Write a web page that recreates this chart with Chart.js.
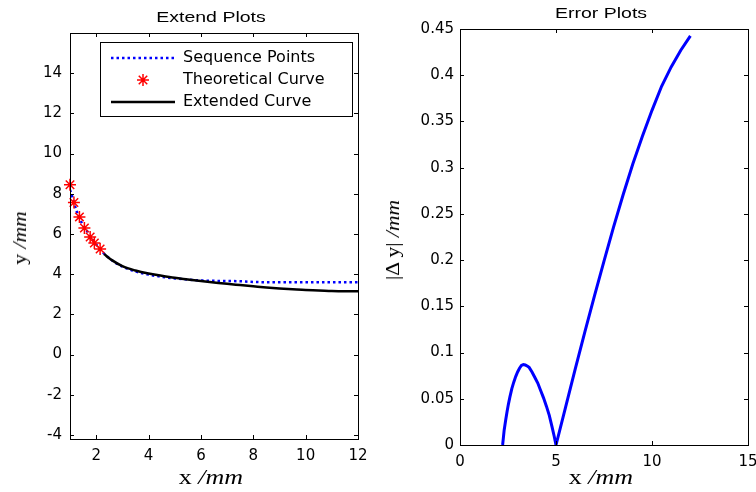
<!DOCTYPE html>
<html>
<head>
<meta charset="utf-8">
<script src="https://cdn.jsdelivr.net/npm/chart.js@4.4.0/dist/chart.umd.min.js"></script>
<style>
  html, body { margin: 0; padding: 0; background: #fff; }
  #wrap { position: relative; width: 756px; height: 492px; overflow: hidden; }
  canvas { position: absolute; top: 0; }
  .lbl { position: absolute; white-space: nowrap; color: #000; line-height: 1; transform: translate(-50%, -50%) scaleX(1.3); }
  .ttl { font-family: 'Liberation Sans', Arial, sans-serif; font-size: 15px; }
  .ax { font-family: 'Liberation Serif', 'Times New Roman', serif; font-size: 20px; }
  .rot { font-size: 18px; transform: translate(-50%, -50%) rotate(-90deg) scaleX(1.2); }
  .ax i { font-style: italic; }
</style>
</head>
<body>
<div id="wrap">
  <canvas id="extendChart" width="378" height="492" style="left:0"></canvas>
  <canvas id="errorChart" width="378" height="492" style="left:378px"></canvas>
  <div class="lbl ttl" style="left:211px; top:16px">Extend Plots</div>
  <div class="lbl ttl" style="left:601px; top:12px">Error Plots</div>
  <div class="lbl ax" style="left:211px; top:477px">x <i>/mm</i></div>
  <div class="lbl ax" style="left:601px; top:477px">x <i>/mm</i></div>
  <div class="lbl ax rot" style="left:20px; top:238px">y <i>/mm</i></div>
  <div class="lbl ax rot" style="left:393px; top:240px">|Δ y| <i>/mm</i></div>
</div>
<script>
// Extend Plots data
const seqX = [1.0, 1.1, 1.25, 1.45, 1.65, 1.85, 2.05, 2.25, 2.45, 2.7, 3.0, 3.5, 4.0, 4.5, 5.0, 5.5, 6.0, 6.5, 7.0, 7.5, 7.9, 8.5, 9.0, 10.0, 11.0, 12.0];
const seqY = [8.2, 7.8, 7.15, 6.55, 6.15, 5.75, 5.4, 5.1, 4.85, 4.6, 4.38, 4.13, 3.98, 3.87, 3.79, 3.73, 3.69, 3.67, 3.66, 3.65, 3.62, 3.6, 3.6, 3.6, 3.6, 3.6];
const theoX = [1.0, 1.15, 1.36, 1.55, 1.77, 1.93, 2.15];
const theoY = [8.45, 7.57, 6.85, 6.3, 5.85, 5.55, 5.25];
const extX = [2.3, 2.6, 3.0, 3.5, 4.0, 4.5, 5.0, 5.5, 6.0, 6.5, 7.0, 7.5, 8.0, 8.5, 9.0, 9.5, 10.0, 10.5, 11.0, 11.5, 12.0];
const extY = [5.0, 4.7, 4.4, 4.18, 4.03, 3.92, 3.82, 3.74, 3.66, 3.59, 3.52, 3.46, 3.4, 3.34, 3.29, 3.25, 3.21, 3.19, 3.16, 3.15, 3.15];
const extendXTicks = [2, 4, 6, 8, 10, 12];
const extendYTicks = [-4, -2, 0, 2, 4, 6, 8, 10, 12, 14];

// Error Plots data
const errX = [2.22, 2.26, 2.3, 2.38, 2.45, 2.52, 2.6, 2.7, 2.8, 2.9, 3.0, 3.1, 3.2, 3.3, 3.4, 3.5, 3.6, 3.75, 3.9, 4.05, 4.2, 4.35, 4.5, 4.65, 4.8, 4.9, 5.0, 5.5, 6.0, 6.5, 7.0, 7.5, 8.0, 8.5, 9.0, 9.5, 10.0, 10.5, 11.0, 11.5, 12.0];
const errY = [0, 0.008, 0.016, 0.027, 0.036, 0.044, 0.052, 0.061, 0.068, 0.074, 0.079, 0.083, 0.086, 0.087, 0.0865, 0.0855, 0.084, 0.079, 0.073, 0.067, 0.059, 0.051, 0.042, 0.032, 0.019, 0.01, 0, 0.041, 0.082, 0.122, 0.161, 0.199, 0.236, 0.271, 0.304, 0.334, 0.362, 0.388, 0.409, 0.427, 0.4425];
const errorXTicks = [0, 5, 10, 15];
const errorYTicks = [0, 0.05, 0.1, 0.15, 0.2, 0.25, 0.3, 0.35, 0.4, 0.45];

Chart.defaults.color = '#000';
Chart.defaults.font.family = "'DejaVu Sans', sans-serif";
Chart.defaults.font.size = 15;

function pts(xs, ys) { return xs.map((x, i) => ({ x: x, y: ys[i] })); }

// box around the axes with inward tick marks, like matlab
const boxPlugin = {
  id: 'box',
  afterDatasetsDraw(chart) {
    const { ctx, chartArea: a, scales } = chart;
    const len = 4;
    ctx.save();
    ctx.strokeStyle = '#000';
    ctx.lineWidth = 1;
    ctx.strokeRect(Math.round(a.left) + 0.5, Math.round(a.top) + 0.5, Math.round(a.right - a.left), Math.round(a.bottom - a.top));
    ctx.beginPath();
    scales.x.ticks.forEach(t => {
      const px = Math.round(scales.x.getPixelForValue(t.value)) + 0.5;
      ctx.moveTo(px, a.bottom); ctx.lineTo(px, a.bottom - len);
      ctx.moveTo(px, a.top); ctx.lineTo(px, a.top + len);
    });
    scales.y.ticks.forEach(t => {
      const py = Math.round(scales.y.getPixelForValue(t.value)) + 0.5;
      ctx.moveTo(a.left, py); ctx.lineTo(a.left + len, py);
      ctx.moveTo(a.right, py); ctx.lineTo(a.right - len, py);
    });
    ctx.stroke();
    ctx.restore();
  }
};

const legendPlugin = {
  id: 'boxLegend',
  afterDraw(chart) {
    const { ctx, chartArea: a } = chart;
    const x0 = a.left + 30, y0 = a.top + 9, w = 252, h = 74;
    ctx.save();
    ctx.fillStyle = '#fff';
    ctx.fillRect(x0, y0, w, h);
    ctx.strokeStyle = '#000';
    ctx.lineWidth = 1;
    ctx.strokeRect(x0 + 0.5, y0 + 0.5, w, h);
    ctx.font = "16px 'DejaVu Sans', sans-serif";
    ctx.textBaseline = 'middle';
    chart.data.datasets.forEach((ds, i) => {
      const cy = y0 + 16 + i * 22;
      ctx.save();
      ctx.strokeStyle = ds.borderColor;
      ctx.lineWidth = ds.borderWidth;
      if (ds.showLine) {
        ctx.setLineDash(ds.borderDash || []);
        ctx.beginPath();
        ctx.moveTo(x0 + 11, cy); ctx.lineTo(x0 + 75, cy);
        ctx.stroke();
      } else {
        Chart.helpers.drawPoint(ctx, { pointStyle: ds.pointStyle, radius: ds.pointRadius, rotation: 0, borderWidth: ds.borderWidth }, x0 + 43, cy);
      }
      ctx.restore();
      ctx.fillStyle = '#000';
      ctx.fillText(ds.label, x0 + 83, cy);
    });
    ctx.restore();
  }
};

function axisOpts(min, max, tickList, opts) {
  return {
    type: 'linear', min: min, max: max,
    grid: { display: false, drawTicks: false },
    border: { display: false },
    ticks: { autoSkip: false, padding: opts.padding, maxRotation: 0, callback: v => String(+v.toFixed(2)) },
    afterBuildTicks: s => { s.ticks = tickList.map(v => ({ value: v })); },
    afterFit: s => {
      if (opts.width) s.width = opts.width;
      if (opts.height) s.height = opts.height;
      s.paddingLeft = 0; s.paddingRight = 0; s.paddingTop = 0; s.paddingBottom = 0;
    }
  };
}

new Chart(document.getElementById('extendChart'), {
  type: 'scatter',
  data: {
    datasets: [
      { label: 'Sequence Points', data: pts(seqX, seqY), showLine: true, borderColor: '#0000ff', borderWidth: 2.5, borderDash: [2.5, 3], pointRadius: 0, cubicInterpolationMode: 'monotone', order: 3 },
      { label: 'Theoretical Curve', data: pts(theoX, theoY), showLine: false, pointStyle: 'star', pointRadius: 6, borderColor: '#ff0000', backgroundColor: '#ff0000', borderWidth: 1.5, clip: false, order: 1 },
      { label: 'Extended Curve', data: pts(extX, extY), showLine: true, borderColor: '#000000', borderWidth: 2.5, pointRadius: 0, cubicInterpolationMode: 'monotone', order: 2 }
    ]
  },
  options: {
    responsive: false, animation: false,
    layout: { padding: { left: 0, top: 33, right: 20, bottom: 0 } },
    plugins: { legend: { display: false }, tooltip: { enabled: false } },
    scales: {
      x: axisOpts(1, 12, extendXTicks, { height: 53, padding: 8 }),
      y: axisOpts(-4.2, 16, extendYTicks, { width: 70, padding: 8 })
    }
  },
  plugins: [boxPlugin, legendPlugin]
});

new Chart(document.getElementById('errorChart'), {
  type: 'scatter',
  data: {
    datasets: [
      { label: 'Error', data: pts(errX, errY), showLine: true, borderColor: '#0000ff', borderWidth: 3, pointRadius: 0, tension: 0 }
    ]
  },
  options: {
    responsive: false, animation: false,
    layout: { padding: { left: 0, top: 29, right: 8, bottom: 0 } },
    plugins: { legend: { display: false }, tooltip: { enabled: false } },
    scales: {
      x: axisOpts(0, 15, errorXTicks, { height: 47, padding: 8 }),
      y: axisOpts(0, 0.45, errorYTicks, { width: 82, padding: 6 })
    }
  },
  plugins: [boxPlugin]
});
</script>
</body>
</html>
